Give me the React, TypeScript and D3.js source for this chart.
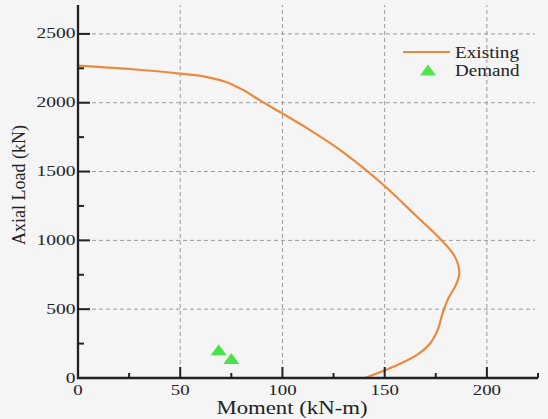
import React from "react";
import * as d3 from "d3";

const existingMoment = [0, 25, 50, 62, 72, 81, 89, 100, 112, 125, 138, 150, 165.6, 177.8, 184.4, 186.5, 184.8, 181.1, 178.3, 176.2, 172.6, 166, 154.2, 142.8, 140.3];
const existingLoad = [2270, 2245, 2212, 2190, 2152, 2090, 2017, 1922, 1815, 1690, 1545, 1395, 1175, 1001, 880, 759, 675, 578, 469, 360, 258, 170, 82, 14, 0];
const demandMoment = [68.8, 75.0];
const demandLoad = [205, 142];
const xMajorTicks = [0, 50, 100, 150, 200];
const xMinorTicks = [25, 75, 125, 175, 225];
const yMajorTicks = [0, 500, 1000, 1500, 2000, 2500];
const yMinorTicks = [250, 750, 1250, 1750, 2250];
const legendLabels = ["Existing", "Demand"];

const W = 548;
const H = 419;
const FONT = "'Liberation Serif', 'Times New Roman', serif";
const ORANGE = "#ec8a3c";
const GREEN = "#33e333";
const AXIS = "#222";

export default function App() {
  const x = d3.scaleLinear().domain([0, 225]).range([78, 538]);
  const y = d3.scaleLinear().domain([0, 2710]).range([378, 5]);

  const pts = existingMoment.map((m, i) => [m, existingLoad[i]] as [number, number]);
  const line = d3
    .line<[number, number]>()
    .x((d) => x(d[0]))
    .y((d) => y(d[1]))
    .curve(d3.curveCatmullRom.alpha(0.5));

  const triPath = (cx: number, cy: number, w: number, h: number) =>
    `M${cx},${cy - h / 2}L${cx + w / 2},${cy + h / 2}L${cx - w / 2},${cy + h / 2}Z`;

  return (
    <svg
      width={W}
      height={H}
      style={{ position: "absolute", left: 0, top: 0, display: "block", background: "#f5f5f6" }}
      fontFamily={FONT}
    >
      <rect x={0} y={0} width={W} height={H} fill="#f5f5f6" />
      {yMajorTicks.filter((t) => t > 0).map((t) => (
        <line key={"gy" + t} x1={x(0)} x2={535} y1={y(t)} y2={y(t)} stroke="#9a9a9a" strokeWidth={1} strokeDasharray="4,3" />
      ))}
      {xMajorTicks.filter((t) => t > 0).map((t) => (
        <line key={"gx" + t} x1={x(t)} x2={x(t)} y1={y(0)} y2={5} stroke="#9a9a9a" strokeWidth={1} strokeDasharray="4,3" />
      ))}

      <path d={line(pts) || ""} fill="none" stroke={ORANGE} strokeWidth={2.2} />

      {demandMoment.map((m, i) => (
        <path key={"d" + i} d={triPath(x(m), y(demandLoad[i]), 16, 11)} fill={GREEN} fillOpacity={0.9} />
      ))}

      <line x1={x(0)} x2={x(0)} y1={y(0) + 1} y2={5} stroke={AXIS} strokeWidth={2.3} />
      <line x1={x(0) - 1} x2={x(225)} y1={y(0)} y2={y(0)} stroke={AXIS} strokeWidth={2.3} />
      {yMajorTicks.filter((t) => t > 0).map((t) => (
        <line key={"ty" + t} x1={x(0)} x2={x(0) + 12} y1={y(t)} y2={y(t)} stroke={AXIS} strokeWidth={2} />
      ))}
      {yMinorTicks.map((t) => (
        <line key={"tmy" + t} x1={x(0)} x2={x(0) + 6} y1={y(t)} y2={y(t)} stroke={AXIS} strokeWidth={2} />
      ))}
      {xMajorTicks.filter((t) => t > 0).map((t) => (
        <line key={"tx" + t} x1={x(t)} x2={x(t)} y1={y(0)} y2={y(0) - 11} stroke={AXIS} strokeWidth={2} />
      ))}
      {xMinorTicks.map((t) => (
        <line key={"tmx" + t} x1={x(t)} x2={x(t)} y1={y(0)} y2={y(0) - 5} stroke={AXIS} strokeWidth={2} />
      ))}

      {yMajorTicks.map((t) => (
        <text key={"ly" + t} transform={`translate(75.5,${y(t) + 4.5}) scale(1.3,1)`} textAnchor="end" fontSize={15} fill={AXIS}>
          {String(t)}
        </text>
      ))}
      {xMajorTicks.map((t) => (
        <text key={"lx" + t} transform={`translate(${x(t)},395) scale(1.3,1)`} textAnchor="middle" fontSize={14.5} fill={AXIS}>
          {String(t)}
        </text>
      ))}

      <text transform="translate(292,414) scale(1.2,1)" textAnchor="middle" fontSize={19} fill={AXIS}>
        Moment (kN-m)
      </text>
      <text transform="translate(25,185) rotate(-90) scale(0.95,1)" textAnchor="middle" fontSize={19} fill={AXIS}>
        Axial Load (kN)
      </text>

      <line x1={403} x2={450} y1={52} y2={52} stroke={ORANGE} strokeWidth={2.2} />
      <text transform="translate(455,57.5) scale(1.13,1)" fontSize={17} fill={AXIS}>
        {legendLabels[0]}
      </text>
      <path d={triPath(428, 70, 16, 11)} fill={GREEN} fillOpacity={0.85} />
      <text transform="translate(455,76) scale(1.12,1)" fontSize={17} fill={AXIS}>
        {legendLabels[1]}
      </text>
    </svg>
  );
}
